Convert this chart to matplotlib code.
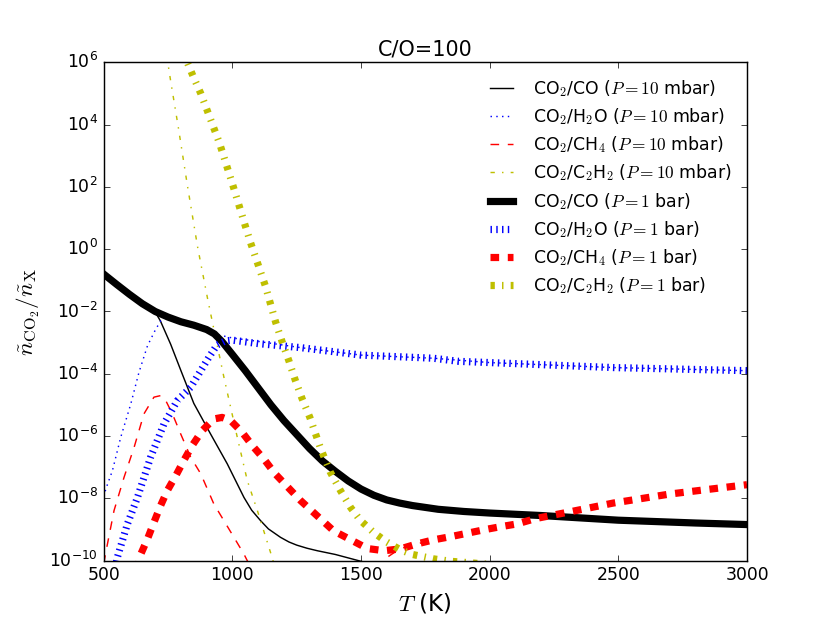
import numpy as np
import matplotlib
matplotlib.use('Agg')
import matplotlib.pyplot as plt
from matplotlib.ticker import NullLocator

plt.style.use('classic')

# values, stored as log10 of the ratio
# CO2/CO
t_co_1bar = [500, 550, 600, 650, 700, 750, 800, 850, 900, 930, 960, 1000, 1050, 1100, 1150,
             1200, 1250, 1300, 1350, 1400, 1450, 1500, 1550, 1600, 1650, 1700, 1800, 1900,
             2000, 2200, 2500, 2800, 3000]
log_co_1bar = [-0.8, -1.13, -1.45, -1.75, -2.0, -2.18, -2.33, -2.44, -2.58, -2.72, -2.97, -3.38,
               -3.9, -4.45, -5.0, -5.5, -5.95, -6.4, -6.8, -7.13, -7.44, -7.7, -7.9, -8.05,
               -8.15, -8.23, -8.35, -8.42, -8.47, -8.55, -8.7, -8.79, -8.84]
t_co_10mbar = [500, 550, 600, 650, 700, 720, 760, 800, 850, 915, 980, 1045, 1075, 1109, 1140,
               1187, 1220, 1250, 1290, 1330, 1400, 1500, 1600]
log_co_10mbar = [-0.8, -1.13, -1.45, -1.75, -2.02, -2.3, -3.05, -3.9, -4.95, -5.93, -6.89, -7.97,
                 -8.38, -8.71, -8.98, -9.25, -9.4, -9.5, -9.6, -9.68, -9.8, -10.02, -10.2]

# CO2/H2O
t_h2o_1bar = [540, 553, 592, 631, 682, 734, 786, 838, 877, 910, 940, 970, 1000, 1100, 1265,
              1500, 1780, 1880, 2000, 2480, 3000]
log_h2o_1bar = [-10.4, -9.89, -8.82, -7.97, -6.68, -5.61, -4.86, -4.43, -3.9, -3.45, -3.08,
                -2.95, -2.92, -3.03, -3.16, -3.4, -3.5, -3.6, -3.64, -3.8, -3.9]
t_h2o_10mbar = [500, 508, 534, 566, 605, 637, 670, 700, 725, 750, 800, 850, 900, 930, 1000,
                1100, 1265, 1500, 1780, 2000, 2480, 3000]
log_h2o_10mbar = [-7.95, -7.7, -7.1, -6.04, -4.97, -3.95, -3.1, -2.6, -2.25, -2.18, -2.33, -2.44,
                  -2.58, -2.72, -2.85, -2.96, -3.16, -3.4, -3.5, -3.64, -3.8, -3.9]

# CO2/CH4
t_ch4_1bar = [630, 644, 670, 695, 721, 747, 780, 812, 844, 883, 928, 960, 993, 1038, 1081, 1122,
              1165, 1265, 1393, 1525, 1590, 1653, 1718, 1782, 1847, 1912, 1976, 2041, 2106,
              2177, 2300, 2480, 2700, 3000]
log_ch4_1bar = [-10.3, -9.79, -9.3, -8.77, -8.23, -7.75, -7.27, -6.77, -6.3, -5.82, -5.45, -5.4,
                -5.5, -5.88, -6.34, -6.73, -7.2, -8.07, -9.04, -9.61, -9.68, -9.62, -9.46, -9.33,
                -9.23, -9.12, -9.01, -8.91, -8.82, -8.65, -8.45, -8.15, -7.86, -7.56]
t_ch4_10mbar = [500, 508, 540, 579, 618, 656, 695, 721, 741, 767, 799, 838, 877, 928, 1006, 1045,
                1070, 1540, 1600, 1650, 1718, 1782]
log_ch4_10mbar = [-10.1, -9.73, -8.39, -7.32, -6.36, -5.29, -4.75, -4.7, -4.86, -5.29, -5.93,
                  -6.68, -7.21, -8.18, -9.25, -9.79, -10.2, -10.3, -9.9, -9.62, -9.46, -9.33]

# CO2/C2H2
t_c2h2_1bar = [810, 826, 850, 877, 900, 950, 1000, 1050, 1071, 1100, 1129, 1168, 1194, 1219,
               1245, 1271, 1301, 1343, 1380, 1420, 1460, 1498, 1550, 1600, 1653, 1700, 1781,
               1850, 1913, 2000]
log_c2h2_1bar = [6.3, 5.97, 5.5, 5.0, 4.5, 3.4, 2.1, 0.75, 0.2, -0.5, -1.2, -2.34, -2.99, -3.57,
                 -4.22, -4.8, -5.4, -6.4, -7.15, -7.75, -8.3, -8.71, -9.1, -9.4, -9.65, -9.8,
                 -9.94, -10.02, -10.06, -10.12]
t_c2h2_10mbar = [745, 760, 790, 825, 865, 905, 930, 967, 993, 1019, 1058, 1097, 1148, 1165]
log_c2h2_10mbar = [6.2, 5.4, 3.9, 2.05, 0.06, -1.65, -2.65, -4.11, -5.07, -6.04, -7.43, -8.39,
                   -9.73, -10.2]


def ratio(logs):
    return np.power(10.0, logs)


fig = plt.figure(figsize=(8, 6.005), dpi=103.75)
ax = fig.add_subplot(111)

ax.plot(t_co_10mbar, ratio(log_co_10mbar), 'k-', lw=1,
        label=r'CO$_2$/CO ($P=10$ mbar)')
ax.plot(t_h2o_10mbar, ratio(log_h2o_10mbar), 'b:', lw=1,
        label=r'CO$_2$/H$_2$O ($P=10$ mbar)')
ax.plot(t_ch4_10mbar, ratio(log_ch4_10mbar), 'r--', lw=1,
        label=r'CO$_2$/CH$_4$ ($P=10$ mbar)')
ax.plot(t_c2h2_10mbar, ratio(log_c2h2_10mbar), 'y-.', lw=1,
        label=r'CO$_2$/C$_2$H$_2$ ($P=10$ mbar)')
ax.plot(t_co_1bar, ratio(log_co_1bar), 'k-', lw=5,
        label=r'CO$_2$/CO ($P=1$ bar)')
ax.plot(t_h2o_1bar, ratio(log_h2o_1bar), 'b:', lw=5,
        label=r'CO$_2$/H$_2$O ($P=1$ bar)')
ax.plot(t_ch4_1bar, ratio(log_ch4_1bar), 'r--', lw=5,
        label=r'CO$_2$/CH$_4$ ($P=1$ bar)')
ax.plot(t_c2h2_1bar, ratio(log_c2h2_1bar), 'y-.', lw=5,
        label=r'CO$_2$/C$_2$H$_2$ ($P=1$ bar)')

ax.set_yscale('log')
ax.set_xlim(500, 3000)
ax.set_ylim(1e-10, 1e6)
ax.set_yticks([1e-10, 1e-8, 1e-6, 1e-4, 1e-2, 1e0, 1e2, 1e4, 1e6])
ax.yaxis.set_minor_locator(NullLocator())

ax.set_title('C/O=100')
ax.set_xlabel(r'$T$ (K)', fontsize=16)
ax.set_ylabel(r'$\tilde{n}_{\rm CO_2}/\tilde{n}_{\rm X}$', fontsize=16)
ax.legend(loc='upper right', frameon=False, fontsize=12, labelspacing=0.42,
          handlelength=1.9, handletextpad=0.87)

fig.savefig('out.png', dpi=103.75)
